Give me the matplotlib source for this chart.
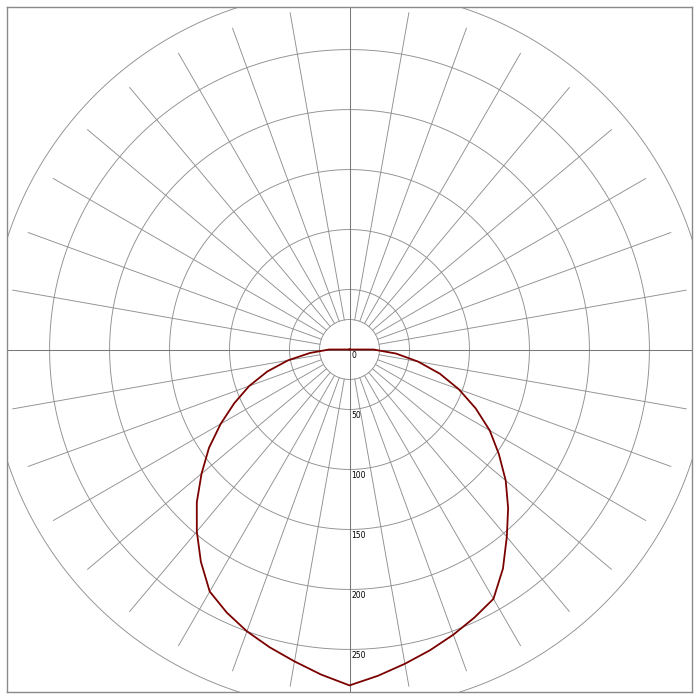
import numpy as np
import matplotlib
matplotlib.use("Agg")
import matplotlib.pyplot as plt

gamma = [0, 5, 10, 15, 20, 25, 30, 35, 40, 45, 50, 55, 60, 65, 70, 75, 80, 85, 90, 95]
c0 = [280, 273, 266, 259.5, 253, 246.5, 240, 223, 204, 187, 170, 152, 135, 116, 97, 78, 58, 39, 20, 0]
c180 = [280, 272, 264, 257, 250, 242, 233, 216, 198, 180, 161, 143, 124, 106, 89, 71, 52, 33, 17, 0]

cerchi = [25, 50, 100, 150, 200, 250, 300]
etichette = [0, 50, 100, 150, 200, 250]
raggi_spokes = (25, 285)

fig = plt.figure(figsize=(7, 7), dpi=100)
ax = fig.add_axes([7 / 700, 8 / 700, 685 / 700, 685 / 700])
ax.set_xlim(-285.5, 285.5)
ax.set_ylim(-285.5, 285.5)
ax.set_aspect("equal")
ax.set_xticks([])
ax.set_yticks([])
for s in ax.spines.values():
    s.set_color("#8a8a8a")
    s.set_linewidth(1.0)

grigio = "#8f8f8f"
t = np.linspace(0, 2 * np.pi, 721)
for r in cerchi:
    ax.plot(r * np.cos(t), r * np.sin(t), color=grigio, lw=0.65)

# raggi ogni 10 gradi
for a in range(0, 360, 10):
    if a % 90 == 0:
        continue
    th = np.radians(a)
    ax.plot([raggi_spokes[0] * np.cos(th), raggi_spokes[1] * np.cos(th)],
            [raggi_spokes[0] * np.sin(th), raggi_spokes[1] * np.sin(th)],
            color=grigio, lw=0.65)

ax.axhline(0, color="#787878", lw=0.75)
ax.axvline(0, color="#787878", lw=0.75)

for v in etichette:
    ax.text(1.5, -v - 1.5, str(v), fontsize=5.5, ha="left", va="top", color="black")

g = np.radians(gamma)
x = np.concatenate([-(np.array(c180) * np.sin(g))[::-1], np.array(c0) * np.sin(g)])
y = np.concatenate([-(np.array(c180) * np.cos(g))[::-1], -np.array(c0) * np.cos(g)])
ax.plot(x, y, color="#7a0000", lw=1.3)

fig.savefig("out.png", dpi=100)
